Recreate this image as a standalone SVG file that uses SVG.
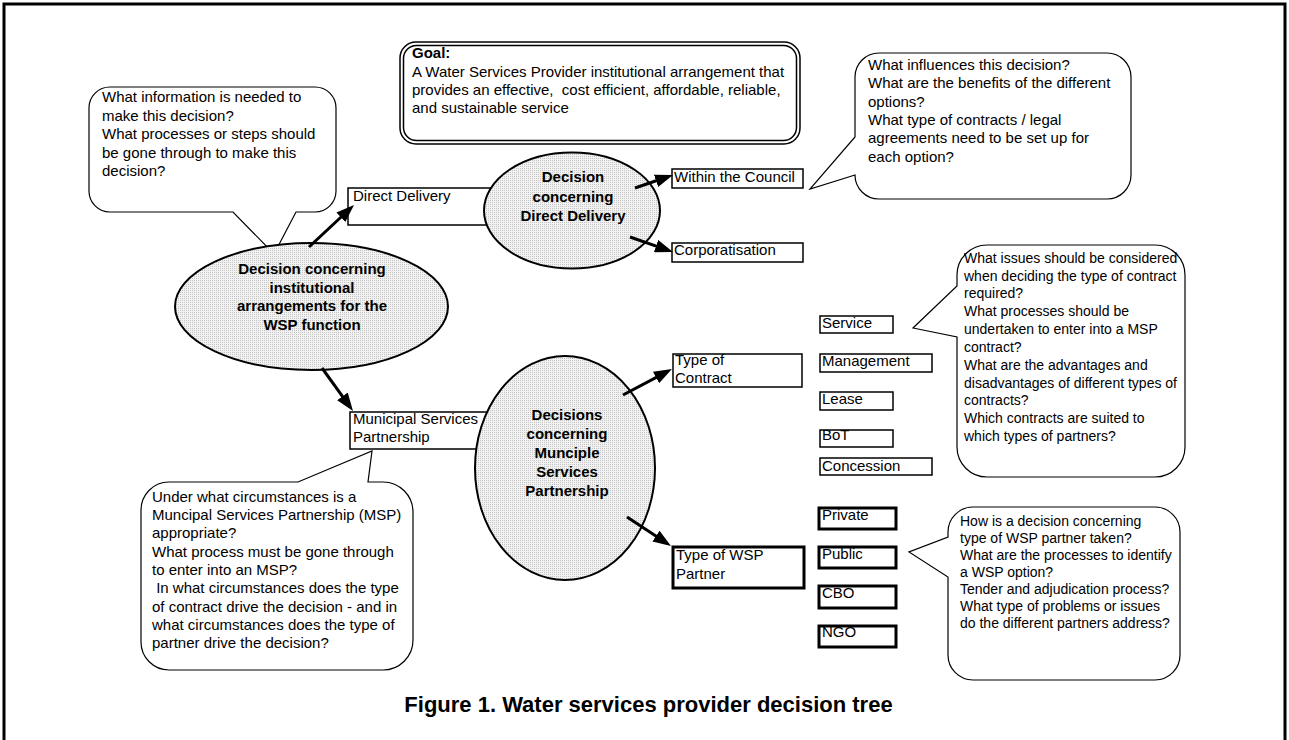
<svg xmlns="http://www.w3.org/2000/svg" width="1289" height="740" viewBox="0 0 1289 740">
<defs>
<style>
.t{font-family:"Liberation Sans",Arial,sans-serif;font-size:15px;fill:#000}
.b{font-weight:bold}
.s{font-size:14px}
.cap{font-family:"Liberation Sans",Arial,sans-serif;font-size:22px;font-weight:bold;fill:#000}
.callout{fill:#fff;stroke:#000;stroke-width:1.2}
.box{fill:#fff;stroke:#000;stroke-width:1.5}
.thick{stroke-width:3}
.ell{fill:url(#stip);stroke:#000;stroke-width:2}
.arr{stroke:#000;stroke-width:3;fill:none;marker-end:url(#ah)}
</style>
<pattern id="stip" width="2" height="2" patternUnits="userSpaceOnUse"><rect width="2" height="2" fill="#f2f2f2"/><rect width="1" height="1" fill="#c4c4c4"/></pattern>
<marker id="ah" markerUnits="userSpaceOnUse" markerWidth="18" markerHeight="13" viewBox="0 0 18 13" refX="4" refY="6.5" orient="auto"><path d="M0,0 L18,6.5 L0,13 Z" fill="#000"/></marker>
</defs>
<rect width="1289" height="740" fill="#fff"/>
<path d="M4,745 V4 H1285 V745" fill="none" stroke="#000" stroke-width="3"/>

<g id="goal">
<rect x="400" y="42" width="400" height="102" rx="16" fill="#fff" stroke="#000" stroke-width="1.5"/>
<rect x="403.5" y="45.5" width="393" height="95" rx="13" fill="none" stroke="#000" stroke-width="1.5"/>
<text class="t b" x="412" y="58">Goal:</text>
<text class="t" x="412" y="77">A Water Services Provider institutional arrangement that</text>
<text class="t" x="412" y="95" xml:space="preserve">provides an effective,  cost efficient, affordable, reliable,</text>
<text class="t" x="412" y="113">and sustainable service</text>
</g>

<g id="callout-info">
<path class="callout" d="M110,87 H315 A21,21 0 0 1 336,108 V191 A21,21 0 0 1 315,212 H296 L274,254 L233,212 H110 A21,21 0 0 1 89,191 V108 A21,21 0 0 1 110,87 Z"/>
<text class="t" x="102" y="102">What information is needed to</text>
<text class="t" x="102" y="120.5">make this decision?</text>
<text class="t" x="102" y="139">What processes or steps should</text>
<text class="t" x="102" y="157.5">be gone through to make this</text>
<text class="t" x="102" y="176">decision?</text>
</g>

<g id="callout-influences">
<path class="callout" d="M879,53 H1107 A24,24 0 0 1 1131,77 V175 A24,24 0 0 1 1107,199 H879 A24,24 0 0 1 855,175 L810,189 L855,137 V77 A24,24 0 0 1 879,53 Z"/>
<text class="t" x="868" y="70">What influences this decision?</text>
<text class="t" x="868" y="88.3">What are the benefits of the different</text>
<text class="t" x="868" y="106.6">options?</text>
<text class="t" x="868" y="125">What type of contracts / legal</text>
<text class="t" x="868" y="143.3">agreements need to be set up for</text>
<text class="t" x="868" y="161.6">each option?</text>
</g>

<g id="callout-contract">
<path class="callout" d="M987,245 H1155 A30,30 0 0 1 1185,275 V447 A30,30 0 0 1 1155,477 H987 A30,30 0 0 1 957,447 V337 L913,328 L957,286 V275 A30,30 0 0 1 987,245 Z"/>
<text class="t s" x="964" y="262.7">What issues should be considered</text>
<text class="t s" x="964" y="280.5">when deciding the type of contract</text>
<text class="t s" x="964" y="298.4">required?</text>
<text class="t s" x="964" y="316.2">What processes should be</text>
<text class="t s" x="964" y="334">undertaken to enter into a MSP</text>
<text class="t s" x="964" y="351.9">contract?</text>
<text class="t s" x="964" y="369.7">What are the advantages and</text>
<text class="t s" x="964" y="387.5">disadvantages of different types of</text>
<text class="t s" x="964" y="405.3">contracts?</text>
<text class="t s" x="964" y="423.2">Which contracts are suited to</text>
<text class="t s" x="964" y="441">which types of partners?</text>
</g>

<g id="callout-partner">
<path class="callout" d="M973,507 H1155 A25,25 0 0 1 1180,532 V655 A25,25 0 0 1 1155,680 H973 A25,25 0 0 1 948,655 V577 L909,552 L948,537 V532 A25,25 0 0 1 973,507 Z"/>
<text class="t s" x="960" y="525.7">How is a decision concerning</text>
<text class="t s" x="960" y="542.7">type of WSP partner taken?</text>
<text class="t s" x="960" y="559.7">What are the processes to identify</text>
<text class="t s" x="960" y="576.7">a WSP option?</text>
<text class="t s" x="960" y="593.7">Tender and adjudication process?</text>
<text class="t s" x="960" y="610.7">What type of problems or issues</text>
<text class="t s" x="960" y="627.7">do the different partners address?</text>
</g>

<g id="callout-msp">
<path class="callout" d="M169,482 H298 L372,451 L368,482 H383 A30,30 0 0 1 413,512 V640 A30,30 0 0 1 383,670 H169 A28,28 0 0 1 141,642 V510 A28,28 0 0 1 169,482 Z"/>
<text class="t" x="152" y="501.7">Under what circumstances is a</text>
<text class="t" x="152" y="520">Muncipal Services Partnership (MSP)</text>
<text class="t" x="152" y="538.3">appropriate?</text>
<text class="t" x="152" y="556.7">What process must be gone through</text>
<text class="t" x="152" y="575">to enter into an MSP?</text>
<text class="t" x="152" y="593.3" xml:space="preserve"> In what circumstances does the type</text>
<text class="t" x="152" y="611.7">of contract drive the decision - and in</text>
<text class="t" x="152" y="630">what circumstances does the type of</text>
<text class="t" x="152" y="648.3">partner drive the decision?</text>
</g>

<g id="direct-delivery">
<rect class="box" x="348" y="188" width="145" height="37"/>
<text class="t" x="353" y="201">Direct Delivery</text>
</g>

<g id="msp">
<rect class="box" x="350" y="412" width="140" height="37"/>
<text class="t" x="353" y="424">Municipal Services</text>
<text class="t" x="353" y="442">Partnership</text>
</g>

<g id="decision-institutional">
<ellipse class="ell" cx="311.5" cy="306.5" rx="136.5" ry="63.5"/>
<text class="t b" x="312" y="274" text-anchor="middle">Decision concerning</text>
<text class="t b" x="312" y="292.7" text-anchor="middle">institutional</text>
<text class="t b" x="312" y="311.3" text-anchor="middle">arrangements for the</text>
<text class="t b" x="312" y="330" text-anchor="middle">WSP function</text>
</g>

<g id="decision-direct">
<ellipse class="ell" cx="572" cy="210.5" rx="88" ry="58"/>
<text class="t b" x="573" y="182.3" text-anchor="middle">Decision</text>
<text class="t b" x="573" y="201.5" text-anchor="middle">concerning</text>
<text class="t b" x="573" y="220.7" text-anchor="middle">Direct Delivery</text>
</g>

<g id="decision-msp">
<ellipse class="ell" cx="565" cy="468" rx="90" ry="112"/>
<text class="t b" x="567" y="420" text-anchor="middle">Decisions</text>
<text class="t b" x="567" y="439" text-anchor="middle">concerning</text>
<text class="t b" x="567" y="458" text-anchor="middle">Munciple</text>
<text class="t b" x="567" y="477" text-anchor="middle">Services</text>
<text class="t b" x="567" y="496" text-anchor="middle">Partnership</text>
</g>

<g id="within-council">
<rect class="box" x="672" y="169" width="131" height="19" stroke-width="2"/>
<text class="t" x="674" y="182">Within the Council</text>
</g>
<g id="corporatisation">
<rect class="box" x="672" y="243" width="131" height="19" stroke-width="2"/>
<text class="t" x="674" y="255">Corporatisation</text>
</g>

<g id="type-contract">
<rect class="box" x="673" y="354" width="129" height="33"/>
<text class="t" x="675" y="365">Type of</text>
<text class="t" x="675" y="383">Contract</text>
</g>
<g id="service">
<rect class="box" x="820" y="316" width="73" height="17"/>
<text class="t" x="822" y="328">Service</text>
</g>
<g id="management">
<rect class="box" x="820" y="354" width="112" height="18"/>
<text class="t" x="822" y="366">Management</text>
</g>
<g id="lease">
<rect class="box" x="820" y="392" width="73" height="18"/>
<text class="t" x="822" y="404">Lease</text>
</g>
<g id="bot">
<rect class="box" x="820" y="430" width="73" height="17"/>
<text class="t" x="822" y="440">BoT</text>
</g>
<g id="concession">
<rect class="box" x="820" y="458" width="112" height="17"/>
<text class="t" x="822" y="471">Concession</text>
</g>

<g id="type-wsp">
<rect class="box thick" x="673" y="547" width="131" height="41"/>
<text class="t" x="676" y="560">Type of WSP</text>
<text class="t" x="676" y="579">Partner</text>
</g>
<g id="private">
<rect class="box thick" x="819" y="508" width="77" height="21"/>
<text class="t" x="822" y="520">Private</text>
</g>
<g id="public">
<rect class="box thick" x="819" y="547" width="77" height="21"/>
<text class="t" x="822" y="559">Public</text>
</g>
<g id="cbo">
<rect class="box thick" x="819" y="586" width="77" height="22"/>
<text class="t" x="822" y="598">CBO</text>
</g>
<g id="ngo">
<rect class="box thick" x="819" y="626" width="77" height="21"/>
<text class="t" x="822" y="637">NGO</text>
</g>

<g id="connectors">
<line class="arr" x1="309" y1="247" x2="343.8" y2="214.5"/>
<line class="arr" x1="322" y1="368" x2="344.8" y2="399.6"/>
<line class="arr" x1="635" y1="188" x2="659.8" y2="179.5"/>
<line class="arr" x1="630" y1="237" x2="659.8" y2="247.4"/>
<line class="arr" x1="623" y1="395" x2="659.6" y2="375.6"/>
<line class="arr" x1="627" y1="517" x2="659.3" y2="538.3"/>
</g>

<text class="cap" x="648.5" y="712" text-anchor="middle">Figure 1. Water services provider decision tree</text>
</svg>
